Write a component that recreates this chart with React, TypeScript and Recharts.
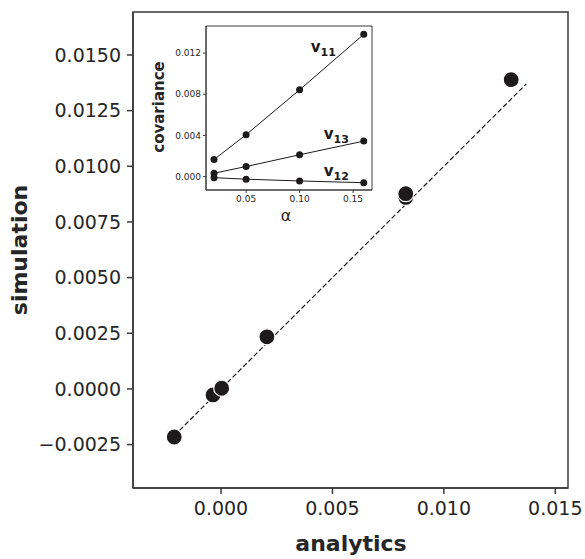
import React from "react";
import {
  ComposedChart,
  LineChart,
  Line,
  Scatter,
  XAxis,
  YAxis,
  ReferenceLine,
  ReferenceArea,
} from "recharts";

// main panel: analytics vs simulation
const analytics = [-0.0021, -0.00036, 0.00003, 0.00206, 0.00829, 0.00829, 0.01302];
const simulation = [-0.00216, -0.00027, 0.00003, 0.00234, 0.0086, 0.00877, 0.01389];
const diagonal = [-0.0021, 0.0137];
const mainXTicks = [0, 0.005, 0.01, 0.015];
const mainYTicks = [-0.0025, 0, 0.0025, 0.005, 0.0075, 0.01, 0.0125, 0.015];

// inset: covariance vs alpha
const alphas = [0.02, 0.05, 0.1, 0.16];
const v11 = [0.00166, 0.00407, 0.00843, 0.01382];
const v13 = [0.00033, 0.00098, 0.00212, 0.00345];
const v12 = [-0.0001, -0.00025, -0.00042, -0.00059];
const insetXTicks = [0.05, 0.1, 0.15];
const insetYTicks = [0, 0.004, 0.008, 0.012];

const X_DOMAIN: [number, number] = [-0.00395, 0.01557];
const Y_DOMAIN: [number, number] = [-0.00445, 0.01693];
const AX_X: [number, number] = [0.0125, 0.1677];
const AX_Y: [number, number] = [-0.0013, 0.01463];

const points = analytics.map((a, i) => ({ a, s: simulation[i] }));
const insetData = alphas.map((al, i) => ({ al, v11: v11[i], v12: v12[i], v13: v13[i] }));

const FRAME = "#3a3a3a";
const TEXT = "#262626";
const FONT = "DejaVu Sans";

const Dot = (props: any) => {
  const { cx, cy } = props;
  if (cx == null || cy == null) return null;
  return <circle cx={cx} cy={cy} r={8} fill="#1c1a1b" stroke="#fff" strokeWidth={1.2} />;
};

function seriesLabel(name: string, dx: number, dy: number) {
  return (props: any) => {
    const { x, y, index } = props;
    if (index !== alphas.length - 1) return null;
    return (
      <text x={x + dx} y={y + dy} fill="#1c1a1b" fontFamily={FONT} fontWeight="bold">
        <tspan fontSize={15}>v</tspan>
        <tspan fontSize={11} dy={4}>{name}</tspan>
      </text>
    );
  };
}

function fmt4(v: number) {
  const s = v.toFixed(4);
  return v < 0 ? "\u2212" + s.slice(1) : s;
}

export default function App() {
  return (
    <div style={{ position: "absolute", left: 0, top: 0, width: 585, height: 559, background: "#fff" }}>
      <ComposedChart width={585} height={559} margin={{ top: 12, right: 17, left: 0, bottom: 0 }}>
        <XAxis
          type="number"
          dataKey="a"
          domain={X_DOMAIN}
          ticks={mainXTicks}
          allowDataOverflow
          height={71}
          tickSize={6}
          tickMargin={8}
          tickFormatter={(v: number) => v.toFixed(3)}
          tick={{ fill: TEXT, fontSize: 19, fontFamily: FONT }}
          stroke={FRAME}
          strokeWidth={1.5}
          label={{
            content: () => (
              <text
                x={351}
                y={551}
                textAnchor="middle"
                fill={TEXT}
                fontSize={22}
                fontWeight="bold"
                fontFamily={FONT}
              >
                analytics
              </text>
            ),
          }}
        />
        <YAxis
          type="number"
          dataKey="s"
          domain={Y_DOMAIN}
          ticks={mainYTicks}
          allowDataOverflow
          width={133}
          tickSize={6}
          tickMargin={6}
          tickFormatter={fmt4}
          tick={{ fill: TEXT, fontSize: 19, fontFamily: FONT }}
          stroke={FRAME}
          strokeWidth={1.5}
          label={{
            content: () => (
              <text
                x={19}
                y={250}
                transform="rotate(-90 19 250)"
                textAnchor="middle"
                dominantBaseline="central"
                fill={TEXT}
                fontSize={22}
                fontWeight="bold"
                fontFamily={FONT}
              >
                simulation
              </text>
            ),
          }}
        />
        <ReferenceArea
          x1={X_DOMAIN[0]}
          x2={X_DOMAIN[1]}
          y1={Y_DOMAIN[0]}
          y2={Y_DOMAIN[1]}
          fill="none"
          stroke={FRAME}
          strokeWidth={1.5}
        />
        <ReferenceLine
          segment={[
            { x: diagonal[0], y: diagonal[0] },
            { x: diagonal[1], y: diagonal[1] },
          ]}
          stroke="#1c1a1b"
          strokeWidth={1.2}
          strokeDasharray="5 2.5"
        />
        <Scatter data={points} shape={Dot} isAnimationActive={false} />
      </ComposedChart>

      <div style={{ position: "absolute", left: 150, top: 15 }}>
        <LineChart width={230} height={225} data={insetData} margin={{ top: 11, right: 8, left: 0, bottom: 0 }}>
          <XAxis
            type="number"
            dataKey="al"
            domain={AX_X}
            ticks={insetXTicks}
            allowDataOverflow
            height={50}
            tickSize={3}
            tickMargin={3}
            tickFormatter={(v: number) => v.toFixed(2)}
            tick={{ fill: TEXT, fontSize: 9, fontFamily: FONT }}
            stroke={FRAME}
            label={{
              content: () => (
                <text x={136} y={200} textAnchor="middle" dominantBaseline="central" fill={TEXT} fontSize={16} fontFamily={FONT}>
                  {"\u03b1"}
                </text>
              ),
            }}
          />
          <YAxis
            type="number"
            domain={AX_Y}
            ticks={insetYTicks}
            allowDataOverflow
            width={56}
            tickSize={3}
            tickFormatter={(v: number) => v.toFixed(3)}
            tick={{ fill: TEXT, fontSize: 9, fontFamily: FONT }}
            stroke={FRAME}
            label={{
              content: () => (
                <text
                  x={9}
                  y={92}
                  transform="rotate(-90 9 92)"
                  textAnchor="middle"
                  dominantBaseline="central"
                  fill={TEXT}
                  fontSize={15}
                  fontWeight="bold"
                  fontFamily={FONT}
                >
                  covariance
                </text>
              ),
            }}
          />
          <ReferenceArea x1={AX_X[0]} x2={AX_X[1]} y1={AX_Y[0]} y2={AX_Y[1]} fill="#fff" stroke={FRAME} />
          <Line dataKey="v11" stroke="#1c1a1b" strokeWidth={1} dot={{ r: 3.5, fill: "#1c1a1b", stroke: "none" }} label={seriesLabel("11", -53, 18)} isAnimationActive={false} />
          <Line dataKey="v13" stroke="#1c1a1b" strokeWidth={1} dot={{ r: 3.5, fill: "#1c1a1b", stroke: "none" }} label={seriesLabel("13", -40, -2)} isAnimationActive={false} />
          <Line dataKey="v12" stroke="#1c1a1b" strokeWidth={1} dot={{ r: 3.5, fill: "#1c1a1b", stroke: "none" }} label={seriesLabel("12", -40, -7)} isAnimationActive={false} />
        </LineChart>
      </div>
    </div>
  );
}
